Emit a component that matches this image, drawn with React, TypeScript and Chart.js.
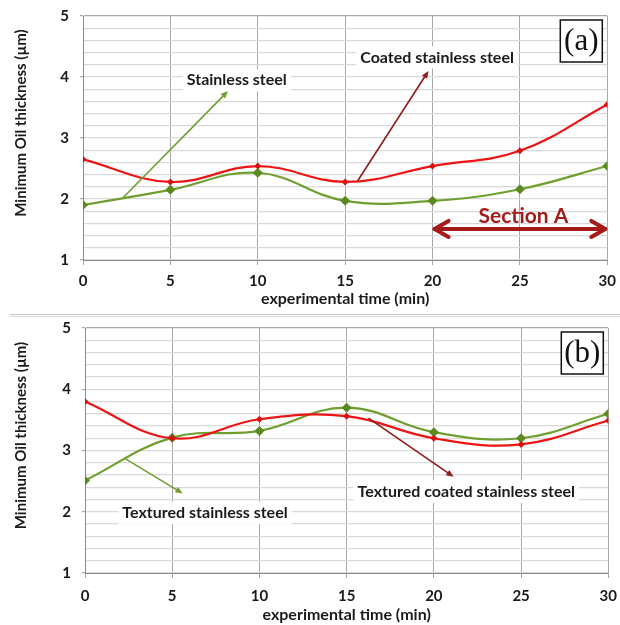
import React, { useEffect, useRef } from 'react';
import { Chart, registerables } from 'chart.js';

Chart.register(...registerables);

// ---- data ----
const times = [0, 5, 10, 15, 20, 25, 30];
const coatedA = [2.65, 2.28, 2.54, 2.28, 2.54, 2.79, 3.55];
const plainA = [1.9, 2.15, 2.43, 1.97, 1.97, 2.16, 2.54];
const coatedB = [3.8, 3.2, 3.51, 3.56, 3.2, 3.1, 3.49];
const plainB = [2.51, 3.21, 3.32, 3.7, 3.3, 3.2, 3.6];
const yTickLabels = [1, 2, 3, 4, 5];
const xTickLabels = [0, 5, 10, 15, 20, 25, 30];

const RED = '#ee1414';
const RED_PT = '#d81010';
const GREEN = '#6f9f2f';
const GREEN_PT = '#5b8a1f';
const DARKRED = '#8e1c1c';
const SECTION = '#a51b1b';
const FONT = 'Lato, "Open Sans", sans-serif';

type Note = { text: string; x: number; y: number; size?: number; color?: string };
type Arrow = { x1: number; y1: number; x2: number; y2: number; color: string };

function pairs(vals: number[]) {
  return times.map((t, i) => ({ x: t, y: vals[i] }));
}

function drawHeadArrow(ctx: CanvasRenderingContext2D, x1: number, y1: number, x2: number, y2: number, color: string) {
  const ang = Math.atan2(y2 - y1, x2 - x1);
  const head = 8;
  ctx.save();
  ctx.strokeStyle = color;
  ctx.fillStyle = color;
  ctx.lineWidth = 1.6;
  ctx.beginPath();
  ctx.moveTo(x1, y1);
  ctx.lineTo(x2 - Math.cos(ang) * head * 0.8, y2 - Math.sin(ang) * head * 0.8);
  ctx.stroke();
  ctx.beginPath();
  ctx.moveTo(x2, y2);
  ctx.lineTo(x2 - head * Math.cos(ang - 0.4), y2 - head * Math.sin(ang - 0.4));
  ctx.lineTo(x2 - head * Math.cos(ang + 0.4), y2 - head * Math.sin(ang + 0.4));
  ctx.closePath();
  ctx.fill();
  ctx.restore();
}

function makePlugin(label: string, notes: Note[], arrows: Arrow[], section: null | { x1: number; x2: number; y: number }) {
  return {
    id: 'notes_' + label,
    afterDraw(chart: any) {
      const ctx: CanvasRenderingContext2D = chart.ctx;
      const xs = chart.scales.x;
      const ys = chart.scales.y;
      const area = chart.chartArea;

      // y axis title
      ctx.save();
      ctx.translate(21, (area.top + area.bottom) / 2 - 15);
      ctx.rotate(-Math.PI / 2);
      ctx.font = `bold 15px ${FONT}`;
      ctx.fillStyle = '#1a1a1a';
      ctx.textAlign = 'center';
      ctx.textBaseline = 'middle';
      ctx.fillText('Minimum Oil thickness (\u00b5m)', 0, 0);
      ctx.restore();

      // arrows
      arrows.forEach((a) => {
        drawHeadArrow(ctx, xs.getPixelForValue(a.x1), ys.getPixelForValue(a.y1), xs.getPixelForValue(a.x2), ys.getPixelForValue(a.y2), a.color);
      });

      // section double arrow
      if (section) {
        const px1 = xs.getPixelForValue(section.x1);
        const px2 = xs.getPixelForValue(section.x2);
        const py = ys.getPixelForValue(section.y);
        ctx.save();
        ctx.strokeStyle = SECTION;
        ctx.lineWidth = 4;
        ctx.lineCap = 'round';
        ctx.lineJoin = 'round';
        ctx.beginPath();
        ctx.moveTo(px1 + 2, py);
        ctx.lineTo(px2 - 2, py);
        ctx.stroke();
        const hl = 16, hh = 8;
        ctx.beginPath();
        ctx.moveTo(px1 + hl, py - hh);
        ctx.lineTo(px1 + 2, py);
        ctx.lineTo(px1 + hl, py + hh);
        ctx.moveTo(px2 - hl, py - hh);
        ctx.lineTo(px2 - 2, py);
        ctx.lineTo(px2 - hl, py + hh);
        ctx.stroke();
        ctx.restore();
      }

      // text notes with white background
      notes.forEach((n) => {
        const size = n.size || 16;
        ctx.save();
        ctx.font = `bold ${size}px ${FONT}`;
        const w = ctx.measureText(n.text).width;
        const px = xs.getPixelForValue(n.x);
        const py = ys.getPixelForValue(n.y);
        if (!n.color) {
          ctx.fillStyle = '#ffffff';
          ctx.fillRect(px - w / 2 - 4, py - size * 0.7, w + 8, size * 1.4);
        }
        ctx.fillStyle = n.color || '#1a1a1a';
        ctx.textAlign = 'center';
        ctx.textBaseline = 'middle';
        ctx.fillText(n.text, px, py);
        ctx.restore();
      });

      // panel label box
      const bw = 42, bh = 42;
      const bx = area.right - 5 - bw;
      const by = area.top + 4;
      ctx.save();
      ctx.fillStyle = '#ffffff';
      ctx.fillRect(bx, by, bw, bh);
      ctx.strokeStyle = '#111111';
      ctx.lineWidth = 1.5;
      ctx.strokeRect(bx, by, bw, bh);
      ctx.fillStyle = '#111111';
      ctx.font = '31px "Liberation Serif", "DejaVu Serif", serif';
      ctx.textAlign = 'center';
      ctx.textBaseline = 'middle';
      ctx.fillText(label, bx + bw / 2, by + bh / 2 + 1);
      ctx.restore();
    },
  };
}

function buildConfig(coated: number[], plain: number[], yWidth: number, xHeight: number, xPad: number, padding: any, plugin: any) {
  return {
    type: 'line' as const,
    data: {
      datasets: [
        {
          label: 'Coated',
          data: pairs(coated),
          borderColor: RED,
          backgroundColor: RED_PT,
          borderWidth: 2.2,
          pointStyle: 'rectRot',
          pointRadius: 3.5,
          pointBorderWidth: 0,
          tension: 0.4,
        },
        {
          label: 'Plain',
          data: pairs(plain),
          borderColor: GREEN,
          backgroundColor: GREEN_PT,
          borderWidth: 2.2,
          pointStyle: 'rectRot',
          pointRadius: 5,
          pointBorderWidth: 0,
          tension: 0.4,
        },
      ],
    },
    options: {
      responsive: false,
      animation: false,
      layout: { padding },
      plugins: { legend: { display: false }, tooltip: { enabled: false }, title: { display: false } },
      scales: {
        x: {
          type: 'linear',
          min: 0,
          max: 30,
          afterBuildTicks: (s: any) => {
            s.ticks = xTickLabels.map((v) => ({ value: v }));
          },
          afterFit: (s: any) => {
            s.height = xHeight;
          },
          ticks: {
            stepSize: 5,
            padding: xPad,
            font: { family: FONT, size: 15, weight: 'bold' },
            color: '#1a1a1a',
          },
          grid: { color: '#a8a8a8', lineWidth: 1, tickLength: 5, tickColor: '#a8a8a8' },
          border: { color: '#8c8c8c', width: 1 },
          title: {
            display: true,
            text: 'experimental time (min)',
            font: { family: FONT, size: 16, weight: 'bold' },
            color: '#1a1a1a',
            padding: { top: 0, bottom: 0 },
          },
        },
        y: {
          type: 'linear',
          min: 1,
          max: 5,
          afterFit: (s: any) => {
            s.width = yWidth;
          },
          ticks: {
            stepSize: 0.2,
            autoSkip: false,
            padding: 11,
            font: { family: FONT, size: 15, weight: 'bold' },
            color: '#1a1a1a',
            callback: (v: any) => {
              const r = Math.round(v);
              return Math.abs(v - r) < 1e-6 && yTickLabels.includes(r) ? String(r) : '';
            },
          },
          grid: {
            color: (c: any) => (c.tick && Math.abs(c.tick.value - 5) < 1e-6 ? '#a8a8a8' : '#d9d9d9'),
            lineWidth: 1.2,
            tickLength: 3,
            tickColor: (c: any) => (c.tick && Math.abs(c.tick.value - Math.round(c.tick.value)) < 1e-6 ? '#a8a8a8' : 'rgba(0,0,0,0)'),
          },
          border: { color: '#8c8c8c', width: 1 },
        },
      },
    },
    plugins: [plugin],
  };
}

function ChartCanvas({ config, width, height, top }: any) {
  const ref = useRef<HTMLCanvasElement | null>(null);
  useEffect(() => {
    if (!ref.current) return;
    const chart = new Chart(ref.current, config);
    return () => chart.destroy();
  }, []);
  return <canvas ref={ref} width={width} height={height} style={{ position: 'absolute', left: 0, top, width, height }} />;
}

export default function App() {
  const pluginA = makePlugin(
    '(a)',
    [
      { text: 'Stainless steel', x: 8.8, y: 3.95 },
      { text: 'Coated stainless steel', x: 20.26, y: 4.32 },
      { text: 'Section A', x: 25.2, y: 1.72, size: 21, color: SECTION },
    ],
    [
      { x1: 2.29, y1: 2.02, x2: 8.3, y2: 3.77, color: GREEN },
      { x1: 15.72, y1: 2.3, x2: 19.77, y2: 4.1, color: DARKRED },
    ],
    { x1: 20, x2: 30, y: 1.51 }
  );
  const pluginB = makePlugin(
    '(b)',
    [
      { text: 'Textured stainless steel', x: 6.88, y: 1.98 },
      { text: 'Textured coated stainless steel', x: 21.86, y: 2.33 },
    ],
    [
      { x1: 2.35, y1: 2.86, x2: 5.6, y2: 2.3, color: GREEN },
      { x1: 16.25, y1: 3.53, x2: 21.13, y2: 2.57, color: DARKRED },
    ],
    null
  );
  const cfgA = buildConfig(coatedA, plainA, 83, 48, 7, { top: 0, right: 0, bottom: 4, left: 0 }, pluginA);
  const cfgB = buildConfig(coatedB, plainB, 85, 51, 9, { top: 0, right: 0, bottom: 1, left: 0 }, pluginB);
  return (
    <div style={{ position: 'absolute', left: 0, top: 0, width: 620, height: 625, background: '#fff', overflow: 'hidden' }}>
      <ChartCanvas config={cfgA} width={623} height={316} top={-4} />
      <div style={{ position: 'absolute', left: 10, top: 314, width: 610, height: 1, borderTop: '1px solid #c4c4c4', borderBottom: '1px solid #dadada' }} />
      <ChartCanvas config={cfgB} width={626} height={317} top={308} />
    </div>
  );
}
